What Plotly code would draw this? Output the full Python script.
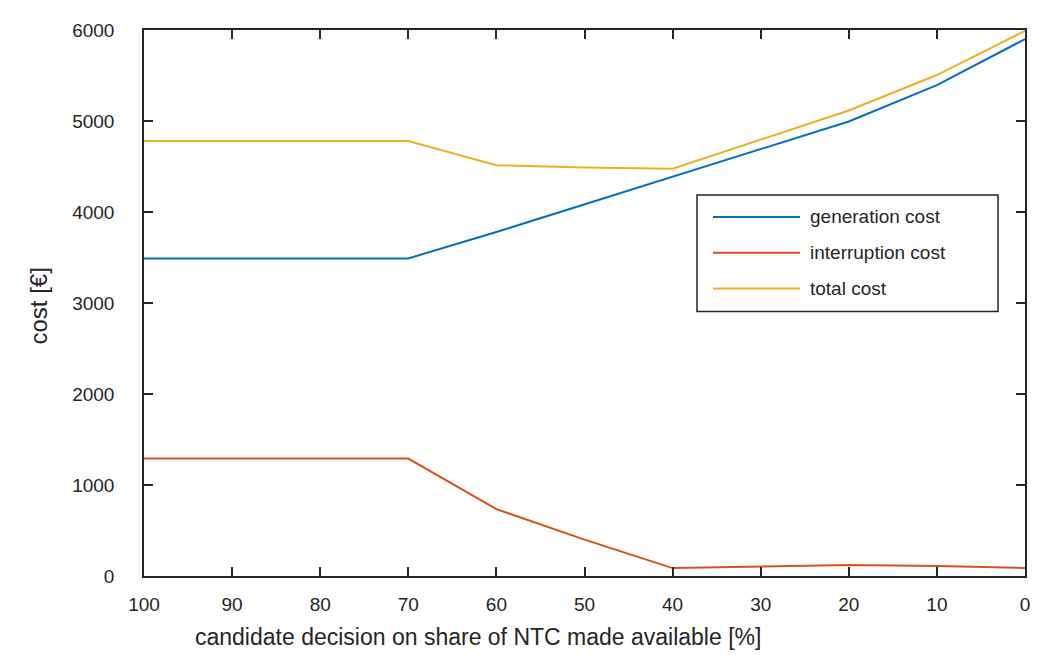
import plotly.graph_objects as go

share = [100, 90, 80, 70, 60, 50, 40, 30, 20, 10, 0]
generation_cost = [3490, 3490, 3490, 3490, 3780, 4085, 4390, 4695, 4995, 5395, 5900]
interruption_cost = [1290, 1290, 1290, 1290, 735, 400, 87, 102, 120, 110, 88]
total_cost = [4780, 4780, 4780, 4780, 4515, 4490, 4475, 4797, 5115, 5505, 5990]
series_names = ["generation cost", "interruption cost", "total cost"]
colors = ["#0072BD", "#D95319", "#EDB120"]
x_ticks = [100, 90, 80, 70, 60, 50, 40, 30, 20, 10, 0]
y_ticks = [0, 1000, 2000, 3000, 4000, 5000, 6000]

FONT = "Liberation Sans, Arial, sans-serif"
AX = "#262626"

fig = go.Figure()
for name, vals, col in zip(series_names, [generation_cost, interruption_cost, total_cost], colors):
    fig.add_trace(go.Scatter(x=share, y=vals, mode="lines", name=name,
                             line=dict(color=col, width=2), showlegend=False))

axis_common = dict(showgrid=False, zeroline=False, showline=True, linecolor=AX, linewidth=1.5,
                   mirror="ticks", ticks="inside", ticklen=9, tickwidth=1.5, tickcolor=AX,
                   tickfont=dict(family=FONT, size=19, color=AX))

fig.update_xaxes(range=[100, 0], tickvals=x_ticks, ticklabelstandoff=10, **axis_common)
fig.update_yaxes(range=[0, 6000], tickvals=y_ticks, ticklabelstandoff=24, **axis_common)

fig.add_annotation(text="candidate decision on share of NTC made available [%]",
                   xref="paper", yref="paper", x=0.0556, y=-0.111, xanchor="left", yanchor="middle",
                   showarrow=False, font=dict(family=FONT, size=23, color=AX))
fig.add_annotation(text="cost [€]", xref="paper", yref="paper", x=-0.12, y=0.494,
                   xanchor="center", yanchor="middle", textangle=-90,
                   showarrow=False, font=dict(family=FONT, size=24, color=AX))

# legend box drawn in paper coordinates
fig.add_shape(type="rect", xref="paper", yref="paper", x0=0.6277, x1=0.9694, y0=0.4845, y1=0.6976,
              line=dict(color=AX, width=1.5), fillcolor="white", layer="above")
row_y = [0.6576, 0.5920, 0.5264]
for name, col, ry in zip(series_names, colors, row_y):
    fig.add_shape(type="line", xref="paper", yref="paper", x0=0.6459, x1=0.7446, y0=ry, y1=ry,
                  line=dict(color=col, width=2), layer="above")
    fig.add_annotation(text=name, xref="paper", yref="paper", x=0.7537, y=ry,
                       xanchor="left", yanchor="middle", showarrow=False,
                       font=dict(family=FONT, size=19, color=AX))

fig.update_layout(
    width=1036, height=647,
    margin=dict(l=136, r=19, t=19, b=79),
    paper_bgcolor="white", plot_bgcolor="white",
    showlegend=False,
)

fig.write_html("out.html")
